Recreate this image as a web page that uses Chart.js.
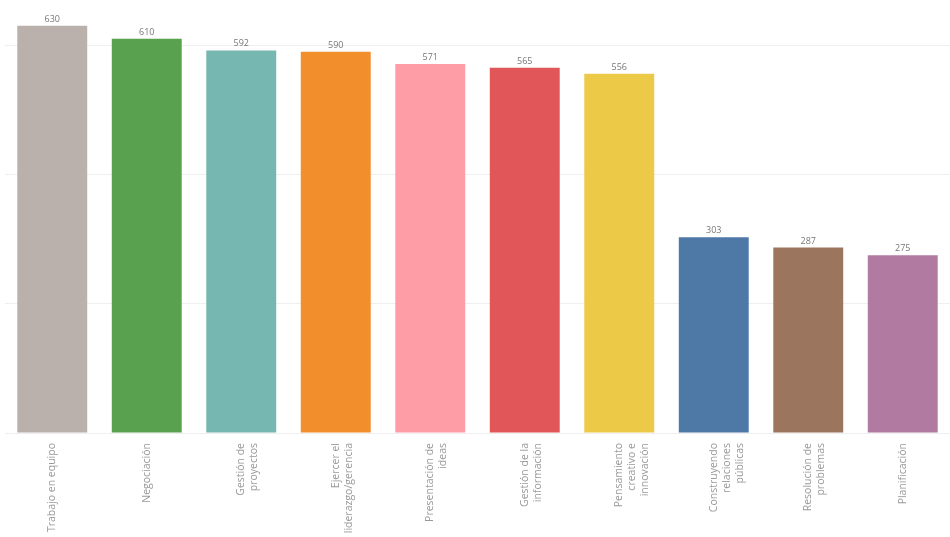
<!DOCTYPE html>
<html>
<head>
<meta charset="utf-8">
<script src="https://cdn.jsdelivr.net/npm/chart.js@4/dist/chart.umd.min.js"></script>
<style>
  html, body { margin: 0; padding: 0; background: #fff; }
  #wrap { width: 950px; height: 537px; position: relative; }
</style>
</head>
<body>
<div id="wrap"><canvas id="skills"></canvas></div>
<script>
const labels = [
    ['Trabajo en equipo'],
    ['Negociación'],
    ['Gestión de', 'proyectos'],
    ['Ejercer el', 'liderazgo/gerencia'],
    ['Presentación de', 'ideas'],
    ['Gestión de la', 'información'],
    ['Pensamiento', 'creativo e', 'innovación'],
    ['Construyendo', 'relaciones', 'públicas'],
    ['Resolución de', 'problemas'],
    ['Planificación']
];
const values = [630, 610, 592, 590, 571, 565, 556, 303, 287, 275];
const colors = ['#BAB0AC', '#59A14F', '#76B7B2', '#F28E2B', '#FF9DA7',
    '#E15759', '#EDC948', '#4E79A7', '#9C755F', '#B07AA1'];
const yTicks = [0, 200, 400, 600];

// value labels above each bar
const valueLabels = {
    id: 'valueLabels',
    afterDatasetsDraw(chart) {
        const c = chart.ctx;
        const meta = chart.getDatasetMeta(0);
        c.save();
        c.font = '9px "Open Sans", sans-serif';
        c.fillStyle = '#777';
        c.textAlign = 'center';
        c.textBaseline = 'bottom';
        meta.data.forEach(function (bar, i) {
            c.fillText(values[i], bar.x, bar.y - 2);
        });
        c.restore();
    }
};

var ctx = document.getElementById('skills');
var myChart = new Chart(ctx, {
    type: 'bar',
    data: {
        labels: labels,
        datasets: [{
            data: values,
            backgroundColor: colors,
            barPercentage: 0.74,
            categoryPercentage: 1
        }]
    },
    options: {
        responsive: true,
        maintainAspectRatio: false,
        animation: false,
        layout: {
            padding: { left: 5, right: 0, top: 0, bottom: 0 }
        },
        plugins: {
            legend: { display: false },
            tooltip: { enabled: false }
        },
        scales: {
            x: {
                grid: { display: false },
                border: { display: false },
                afterFit: function (axis) { axis.height = 104; },
                ticks: {
                    color: '#999',
                    font: { size: 10.5, family: '"Open Sans", sans-serif', lineHeight: 1.25 },
                    minRotation: 90,
                    maxRotation: 90,
                    autoSkip: false,
                    padding: 2
                }
            },
            y: {
                min: 0,
                max: 670,
                afterBuildTicks: function (axis) {
                    axis.ticks = yTicks.map(function (v) { return { value: v }; });
                },
                grid: { color: '#efefef', drawTicks: false },
                border: { display: false },
                ticks: { display: false }
            }
        }
    },
    plugins: [valueLabels]
});
</script>
</body>
</html>
